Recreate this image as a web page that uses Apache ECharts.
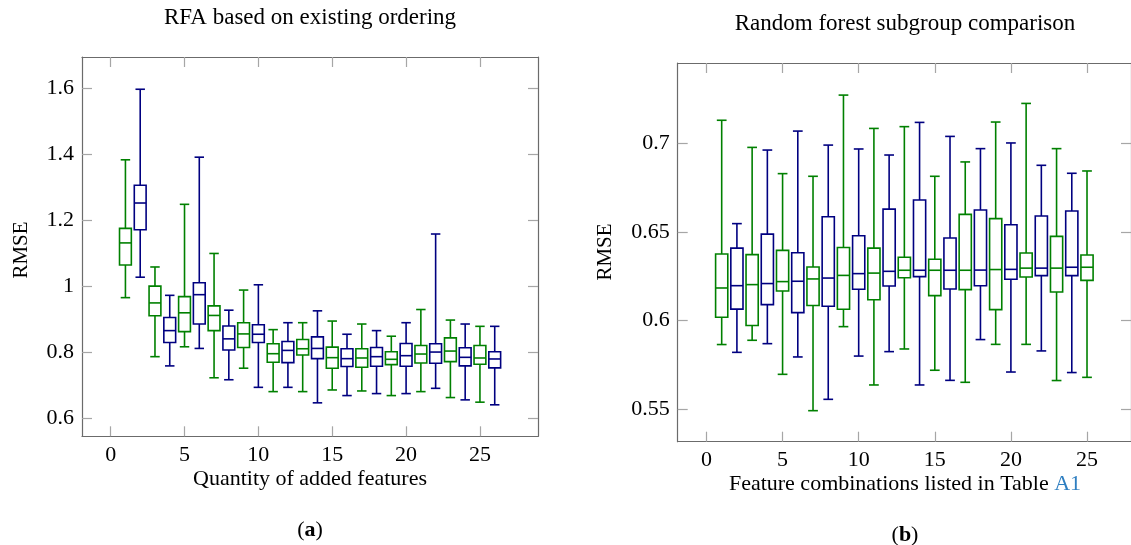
<!DOCTYPE html>
<html>
<head>
<meta charset="utf-8">
<script src="https://cdn.jsdelivr.net/npm/echarts@6/dist/echarts.min.js"></script>
<style>
html,body{margin:0;padding:0;background:#fff;}
#chart{width:1131px;height:545px;}
</style>
</head>
<body>
<div id="chart"></div>
<script>
// ---------- Data: (a) RFA based on existing ordering ----------
const leftX = [1,2,3,4,5,6,7,8,9,10,11,12,13,14,15,16,17,18,19,20,21,22,23,24,25,26];
const leftLow  = [0.965,1.027,0.786,0.758,0.816,0.811,0.722,0.716,0.751,0.693,0.680,0.693,0.680,0.646,0.685,0.668,0.682,0.674,0.668,0.674,0.680,0.690,0.662,0.655,0.648,0.640];
const leftQ1   = [1.064,1.171,0.910,0.829,0.862,0.885,0.865,0.806,0.814,0.829,0.769,0.768,0.791,0.780,0.751,0.756,0.754,0.757,0.762,0.757,0.767,0.766,0.771,0.758,0.763,0.752];
const leftMed  = [1.131,1.252,0.949,0.865,0.919,0.974,0.911,0.840,0.855,0.854,0.795,0.805,0.810,0.811,0.783,0.780,0.782,0.786,0.778,0.789,0.794,0.800,0.803,0.784,0.782,0.779];
const leftQ3   = [1.175,1.306,1.000,0.905,0.968,1.010,0.940,0.879,0.889,0.883,0.825,0.832,0.838,0.846,0.815,0.810,0.810,0.814,0.801,0.826,0.820,0.825,0.843,0.813,0.820,0.801];
const leftHigh = [1.383,1.597,1.058,0.972,1.248,1.391,1.099,0.927,0.988,1.004,0.868,0.889,0.889,0.925,0.894,0.854,0.885,0.865,0.848,0.889,0.929,1.158,0.897,0.885,0.878,0.878];
const leftXTicks = [0,5,10,15,20,25];
const leftYTicks = [0.6,0.8,1.0,1.2,1.4,1.6];

// ---------- Data: (b) Random forest subgroup comparison ----------
const rightX = [1,2,3,4,5,6,7,8,9,10,11,12,13,14,15,16,17,18,19,20,21,22,23,24,25];
const rightLow  = [0.5865,0.5821,0.5889,0.5870,0.5697,0.5795,0.5492,0.5556,0.5966,0.5800,0.5637,0.5825,0.5840,0.5637,0.5720,0.5663,0.5652,0.5893,0.5866,0.5710,0.5866,0.5829,0.5662,0.5707,0.5680];
const rightQ1   = [0.6019,0.6065,0.5972,0.6090,0.6167,0.6045,0.6085,0.6081,0.6064,0.6177,0.6118,0.6195,0.6242,0.6248,0.6141,0.6178,0.6175,0.6197,0.6062,0.6233,0.6246,0.6254,0.6161,0.6254,0.6227];
const rightMed  = [0.6184,0.6197,0.6203,0.6209,0.6220,0.6222,0.6235,0.6240,0.6255,0.6265,0.6268,0.6278,0.6284,0.6284,0.6284,0.6284,0.6284,0.6285,0.6288,0.6289,0.6296,0.6296,0.6296,0.6301,0.6301];
const rightQ3   = [0.6376,0.6409,0.6372,0.6488,0.6396,0.6383,0.6302,0.6586,0.6412,0.6479,0.6409,0.6629,0.6357,0.6680,0.6346,0.6466,0.6599,0.6624,0.6575,0.6541,0.6381,0.6590,0.6475,0.6618,0.6370];
const rightHigh = [0.7130,0.6547,0.6977,0.6962,0.6829,0.7069,0.6814,0.6990,0.7272,0.6968,0.7084,0.6934,0.7094,0.7118,0.6814,0.7039,0.6895,0.6970,0.7120,0.7002,0.7225,0.6876,0.6970,0.6831,0.6844];
const rightXTicks = [0,5,10,15,20,25];
const rightYTicks = [0.55,0.6,0.65,0.7];

const GREEN = '#008000';
const BLUE = '#000080';
const FONT = '"Liberation Serif", "DejaVu Serif", serif';
const FRAME = '#6b6b6b';
const TICK = '#a6a6a6';

const chart = echarts.init(document.getElementById('chart'), null, {renderer: 'canvas'});

function build(xs, lo, q1, md, q3, hi) {
  return xs.map((x, i) => [x, lo[i], q1[i], md[i], q3[i], hi[i]]);
}

function renderBox(params, api) {
  const x = api.value(0);
  const pLo = api.coord([x, api.value(1)]);
  const pQ1 = api.coord([x, api.value(2)]);
  const pMd = api.coord([x, api.value(3)]);
  const pQ3 = api.coord([x, api.value(4)]);
  const pHi = api.coord([x, api.value(5)]);
  const bw = api.size([0.8, 0])[0];
  const ww = api.size([0.64, 0])[0];
  const c = params.dataIndex % 2 === 0 ? GREEN : BLUE;
  const st = {stroke: c, lineWidth: 1.6, fill: null};
  const cx = pMd[0];
  return {
    type: 'group',
    children: [
      {type: 'line', shape: {x1: cx, y1: pHi[1], x2: cx, y2: pQ3[1]}, style: st},
      {type: 'line', shape: {x1: cx, y1: pQ1[1], x2: cx, y2: pLo[1]}, style: st},
      {type: 'line', shape: {x1: cx - ww / 2, y1: pHi[1], x2: cx + ww / 2, y2: pHi[1]}, style: st},
      {type: 'line', shape: {x1: cx - ww / 2, y1: pLo[1], x2: cx + ww / 2, y2: pLo[1]}, style: st},
      {type: 'rect', shape: {x: cx - bw / 2, y: pQ3[1], width: bw, height: pQ1[1] - pQ3[1]}, style: st},
      {type: 'line', shape: {x1: cx - bw / 2, y1: pMd[1], x2: cx + bw / 2, y2: pMd[1]}, style: st}
    ]
  };
}

function fmt(v) { return String(+(+v).toFixed(3)); }

function xAxisPair(grid, min, max, ticks) {
  const base = {
    type: 'value', gridIndex: grid, min: min, max: max,
    splitLine: {show: false},
    axisLine: {show: true, onZero: false, lineStyle: {color: FRAME, width: 1.2}},
    axisTick: {show: true, inside: true, length: 10, customValues: ticks, lineStyle: {color: TICK, width: 1.2}}
  };
  return [
    Object.assign({}, base, {position: 'bottom',
      axisLabel: {show: true, customValues: ticks, formatter: fmt, margin: 8, color: '#000', fontFamily: FONT, fontSize: 22}}),
    Object.assign({}, base, {position: 'top', axisLabel: {show: false}})
  ];
}
function yAxisPair(grid, min, max, ticks) {
  const base = {
    type: 'value', gridIndex: grid, min: min, max: max,
    splitLine: {show: false},
    axisLine: {show: true, onZero: false, lineStyle: {color: FRAME, width: 1.2}},
    axisTick: {show: true, inside: true, length: 10, customValues: ticks, lineStyle: {color: TICK, width: 1.2}}
  };
  return [
    Object.assign({}, base, {position: 'left',
      axisLabel: {show: true, customValues: ticks, formatter: fmt, margin: 8, color: '#000', fontFamily: FONT, fontSize: 22}}),
    Object.assign({}, base, {position: 'right', axisLabel: {show: false}})
  ];
}

const lx = xAxisPair(0, -1.94, 28.93, leftXTicks);
const rx = xAxisPair(1, -1.89, 27.89, rightXTicks);
const ly = yAxisPair(0, 0.5445, 1.6948, leftYTicks);
const ry = yAxisPair(1, 0.5317, 0.7453, rightYTicks);

const option = {
  animation: false,
  backgroundColor: '#ffffff',
  grid: [
    {left: 82, top: 57, width: 456, height: 379.3},
    {left: 677.7, top: 63, width: 456.3, height: 378.7}
  ],
  xAxis: [lx[0], lx[1], rx[0], rx[1]],
  yAxis: [ly[0], ly[1], ry[0], ry[1]],
  series: [
    {type: 'custom', xAxisIndex: 0, yAxisIndex: 0, renderItem: renderBox,
      encode: {x: 0, y: [1, 2, 3, 4, 5]},
      data: build(leftX, leftLow, leftQ1, leftMed, leftQ3, leftHigh), clip: false},
    {type: 'custom', xAxisIndex: 2, yAxisIndex: 2, renderItem: renderBox,
      encode: {x: 0, y: [1, 2, 3, 4, 5]},
      data: build(rightX, rightLow, rightQ1, rightMed, rightQ3, rightHigh), clip: false}
  ],
  graphic: [
    {type: 'text', style: {text: 'RFA based on existing ordering', x: 310, y: 18, align: 'center', verticalAlign: 'middle', fill: '#000', font: '23px ' + FONT}},
    {type: 'text', style: {text: 'Random forest subgroup comparison', x: 905, y: 24, align: 'center', verticalAlign: 'middle', fill: '#000', font: '23px ' + FONT}},
    {type: 'text', rotation: Math.PI / 2, x: 21, y: 250, style: {text: 'RMSE', x: 0, y: 0, align: 'center', verticalAlign: 'middle', fill: '#000', font: '21px ' + FONT}},
    {type: 'text', rotation: Math.PI / 2, x: 605, y: 252, style: {text: 'RMSE', x: 0, y: 0, align: 'center', verticalAlign: 'middle', fill: '#000', font: '21px ' + FONT}},
    {type: 'text', style: {text: 'Quantity of added features', x: 310, y: 479, align: 'center', verticalAlign: 'middle', fill: '#000', font: '22px ' + FONT}},
    {type: 'text', style: {
      text: '{n|Feature combinations listed in Table }{l|A1}', x: 905, y: 484, align: 'center', verticalAlign: 'middle',
      rich: {n: {fill: '#000', font: '22px ' + FONT}, l: {fill: '#2f7fc1', font: '22px ' + FONT}}}},
    {type: 'text', style: {
      text: '{n|(}{b|a}{n|)}', x: 310, y: 530, align: 'center', verticalAlign: 'middle',
      rich: {n: {fill: '#000', font: '22px ' + FONT}, b: {fill: '#000', font: 'bold 22px ' + FONT}}}},
    {type: 'text', style: {
      text: '{n|(}{b|b}{n|)}', x: 905, y: 535, align: 'center', verticalAlign: 'middle',
      rich: {n: {fill: '#000', font: '22px ' + FONT}, b: {fill: '#000', font: 'bold 22px ' + FONT}}}}
  ]
};
chart.setOption(option);
</script>
</body>
</html>
